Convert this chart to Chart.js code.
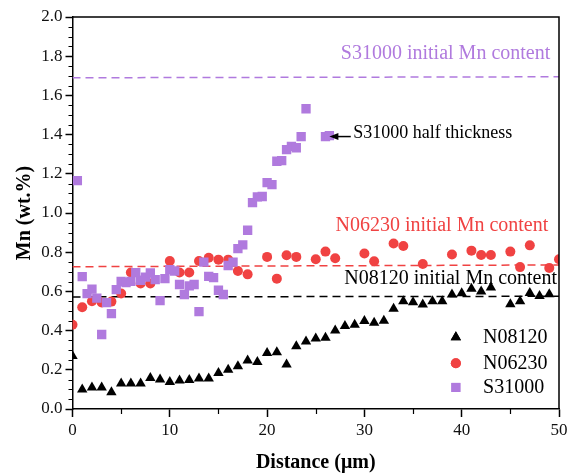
<!DOCTYPE html>
<html lang="en">
<head>
<meta charset="UTF-8">
<title>Mn profile</title>
<style>
  html, body { margin: 0; padding: 0; background: #fff; }
</style>
</head>
<body>
<canvas id="myChart" width="576" height="473"></canvas>
<script src="https://cdn.jsdelivr.net/npm/chart.js"></script>
<script>
// N08120 - black triangles
const n08120X = [0, 1, 2, 3, 4, 5, 6, 7, 8, 9, 10, 11, 12, 13, 14, 15, 16, 17, 18, 19, 20, 21, 22, 23, 24,
  25, 26, 27, 28, 29, 30, 31, 32, 33, 34, 35, 36, 37, 38, 39, 40, 41, 42, 43, 45, 46, 47, 48, 49];
const n08120Y = [0.27, 0.10, 0.11, 0.11, 0.085, 0.13, 0.13, 0.13, 0.158, 0.15, 0.138, 0.145, 0.148, 0.155, 0.155,
  0.184, 0.20, 0.218, 0.248, 0.24, 0.286, 0.29, 0.227, 0.32, 0.345, 0.36, 0.364, 0.40, 0.424, 0.43, 0.449, 0.44,
  0.45, 0.512, 0.55, 0.545, 0.533, 0.55, 0.55, 0.584, 0.59, 0.614, 0.60, 0.62, 0.535, 0.55, 0.592, 0.577, 0.586];

// N06230 - red circles
const n06230X = [0, 1, 2, 3, 4, 5, 6, 7, 8, 10, 11, 12, 13, 14, 15, 16, 17, 18, 20, 21, 22, 23, 25, 26, 27,
  30, 31, 33, 34, 36, 39, 41, 42, 43, 45, 46, 47, 49, 50];
const n06230Y = [0.43, 0.519, 0.55, 0.544, 0.548, 0.589, 0.696, 0.64, 0.64, 0.755, 0.696, 0.696, 0.755, 0.772,
  0.762, 0.762, 0.704, 0.687, 0.776, 0.665, 0.784, 0.776, 0.764, 0.803, 0.769, 0.793, 0.754, 0.844, 0.832, 0.74,
  0.788, 0.808, 0.786, 0.786, 0.803, 0.724, 0.835, 0.72, 0.764];

// S31000 - purple squares
const s31000X = [0.5, 1, 1.5, 2, 2.5, 3, 3.5, 4, 4.5, 5, 5.5, 6, 6.5, 7, 7.5, 8, 8.5, 9, 9.5, 10, 10.5, 11,
  11.5, 12, 12.5, 13, 13.5, 14, 14.5, 15, 15.5, 16, 16.5, 17, 17.5, 18, 18.5, 19, 19.5, 20, 20.5, 21, 21.5,
  22, 22.5, 23, 23.5, 24, 26, 26.4];
const s31000Y = [1.165, 0.675, 0.589, 0.612, 0.566, 0.38, 0.543, 0.487, 0.609, 0.651, 0.645, 0.651, 0.696,
  0.657, 0.673, 0.694, 0.66, 0.553, 0.665, 0.711, 0.704, 0.635, 0.584, 0.628, 0.635, 0.497, 0.749, 0.677, 0.67,
  0.606, 0.584, 0.732, 0.749, 0.818, 0.837, 0.912, 1.053, 1.082, 1.084, 1.155, 1.145, 1.264, 1.267, 1.323,
  1.34, 1.333, 1.39, 1.532, 1.39, 1.395];

// initial Mn content lines (start, end)
const lineX = [0, 50];
const s31000Init = [1.69, 1.695];
const n06230Init = [0.726, 0.735];
const n08120Init = [0.572, 0.575];

const yTicks = [0, 0.2, 0.4, 0.6, 0.8, 1.0, 1.2, 1.4, 1.6, 1.8, 2.0];
const xTicks = [0, 10, 20, 30, 40, 50];

const PURPLE = 'rgb(176,122,222)';
const RED = 'rgb(240,66,66)';
const FONT = '"Liberation Serif", "Times New Roman", serif';

function pts(xs, ys) {
  return xs.map((x, i) => ({ x: x, y: ys[i] }));
}

// minor ticks, top/right frame, text labels, arrow, legend
const extras = {
  id: 'extras',
  afterDraw(chart) {
    const ctx = chart.ctx;
    const a = chart.chartArea;
    const xs = chart.scales.x, ys = chart.scales.y;
    ctx.save();
    ctx.strokeStyle = '#000';
    ctx.lineWidth = 1.2;
    ctx.beginPath();
    for (let i = 1; i < 40; i++) {
      if (i % 4 === 0) continue;
      const py = Math.round(ys.getPixelForValue(i * 0.05)) + 0.5;
      ctx.moveTo(a.left, py);
      ctx.lineTo(a.left - 4, py);
    }
    for (let i = 5; i < 50; i += 10) {
      const px = Math.round(xs.getPixelForValue(i)) + 0.5;
      ctx.moveTo(px, a.bottom);
      ctx.lineTo(px, a.bottom + 5);
    }
    ctx.stroke();
    ctx.lineWidth = 1.5;
    ctx.beginPath();
    ctx.moveTo(a.left, a.top);
    ctx.lineTo(a.right, a.top);
    ctx.lineTo(a.right, a.bottom);
    ctx.stroke();

    // labels
    ctx.textBaseline = 'middle';
    ctx.font = '20px ' + FONT;
    ctx.textAlign = 'right';
    ctx.fillStyle = PURPLE;
    ctx.fillText('S31000 initial Mn content', xs.getPixelForValue(49.1), ys.getPixelForValue(1.81));
    ctx.fillStyle = RED;
    ctx.fillText('N06230 initial Mn content', xs.getPixelForValue(48.9), ys.getPixelForValue(0.937));
    ctx.fillStyle = '#000';
    ctx.fillText('N08120 initial Mn content', xs.getPixelForValue(49.8), ys.getPixelForValue(0.667));
    ctx.textAlign = 'left';
    ctx.font = '18px ' + FONT;
    ctx.fillText('S31000 half thickness', xs.getPixelForValue(28.85), ys.getPixelForValue(1.405));

    // arrow
    const ax0 = xs.getPixelForValue(28.6), ax1 = xs.getPixelForValue(26.4), ay = ys.getPixelForValue(1.39);
    ctx.lineWidth = 1.5;
    ctx.beginPath();
    ctx.moveTo(ax0, ay);
    ctx.lineTo(ax1 + 6, ay);
    ctx.stroke();
    ctx.beginPath();
    ctx.moveTo(ax1, ay);
    ctx.lineTo(ax1 + 9, ay - 3.5);
    ctx.lineTo(ax1 + 9, ay + 3.5);
    ctx.closePath();
    ctx.fill();

    // legend
    const lx = xs.getPixelForValue(39.4), tx = xs.getPixelForValue(42.2);
    const items = [
      { name: 'N08120', y: 0.366, style: 'triangle', r: 6, c: '#000' },
      { name: 'N06230', y: 0.233, style: 'circle', r: 5, c: RED },
      { name: 'S31000', y: 0.11, style: 'rect', r: 6.4, c: PURPLE }
    ];
    ctx.font = '20px ' + FONT;
    items.forEach(it => {
      const py = ys.getPixelForValue(it.y);
      ctx.fillStyle = it.c;
      ctx.strokeStyle = it.c;
      Chart.helpers.drawPoint(ctx, { pointStyle: it.style, radius: it.r, rotation: 0, borderWidth: 0 }, lx, py);
      ctx.fill();
      ctx.fillStyle = '#000';
      ctx.fillText(it.name, tx, py);
    });
    ctx.restore();
  }
};

const ctx = document.getElementById('myChart').getContext('2d');
new Chart(ctx, {
  type: 'scatter',
  data: {
    datasets: [
      { label: 'S31000', data: pts(s31000X, s31000Y), pointStyle: 'rect', pointRadius: 6.6,
        backgroundColor: PURPLE, borderColor: PURPLE, borderWidth: 0, order: 0 },
      { label: 'N06230', data: pts(n06230X, n06230Y), pointStyle: 'circle', pointRadius: 5,
        backgroundColor: RED, borderColor: RED, borderWidth: 0, order: 1 },
      { label: 'N08120', data: pts(n08120X, n08120Y), pointStyle: 'triangle', pointRadius: 6,
        backgroundColor: '#000', borderColor: '#000', borderWidth: 0, order: 2 },
      { type: 'line', label: 'S31000 init', data: pts(lineX, s31000Init), borderColor: PURPLE,
        borderWidth: 1.5, borderDash: [8, 5], pointRadius: 0, order: 3 },
      { type: 'line', label: 'N06230 init', data: pts(lineX, n06230Init), borderColor: RED,
        borderWidth: 1.5, borderDash: [8, 5], pointRadius: 0, order: 3 },
      { type: 'line', label: 'N08120 init', data: pts(lineX, n08120Init), borderColor: '#000',
        borderWidth: 1.5, borderDash: [8, 5], pointRadius: 0, order: 3 }
    ]
  },
  options: {
    responsive: false,
    animation: false,
    devicePixelRatio: 1,
    layout: { padding: { top: 17, right: 17, left: 0, bottom: 0 } },
    plugins: { legend: { display: false }, tooltip: { enabled: false } },
    scales: {
      x: {
        type: 'linear', min: 0, max: 50,
        afterFit: s => { s.height = 64; },
        afterBuildTicks: s => { s.ticks = xTicks.map(v => ({ value: v })); },
        ticks: { font: { family: FONT, size: 17 }, color: '#111', padding: 3 },
        grid: { drawOnChartArea: false, tickLength: 8, tickWidth: 1.5, tickColor: '#000' },
        border: { color: '#000', width: 1.5 },
        title: { display: true, text: 'Distance (μm)', color: '#000',
          font: { family: FONT, size: 20, weight: 'bold' }, padding: { top: 0, bottom: -2 } }
      },
      y: {
        type: 'linear', min: 0, max: 2,
        afterFit: s => { s.width = 72.5; },
        afterBuildTicks: s => { s.ticks = yTicks.map(v => ({ value: v })); },
        ticks: { font: { family: FONT, size: 17 }, color: '#111', padding: 3,
          callback: v => v.toFixed(1) },
        grid: { drawOnChartArea: false, tickLength: 7, tickWidth: 1.5, tickColor: '#000' },
        border: { color: '#000', width: 1.5 },
        title: { display: true, text: 'Mn (wt.%)', color: '#000',
          font: { family: FONT, size: 20, weight: 'bold' }, padding: { top: 13, bottom: 0 } }
      }
    }
  },
  plugins: [extras]
});
</script>
</body>
</html>
